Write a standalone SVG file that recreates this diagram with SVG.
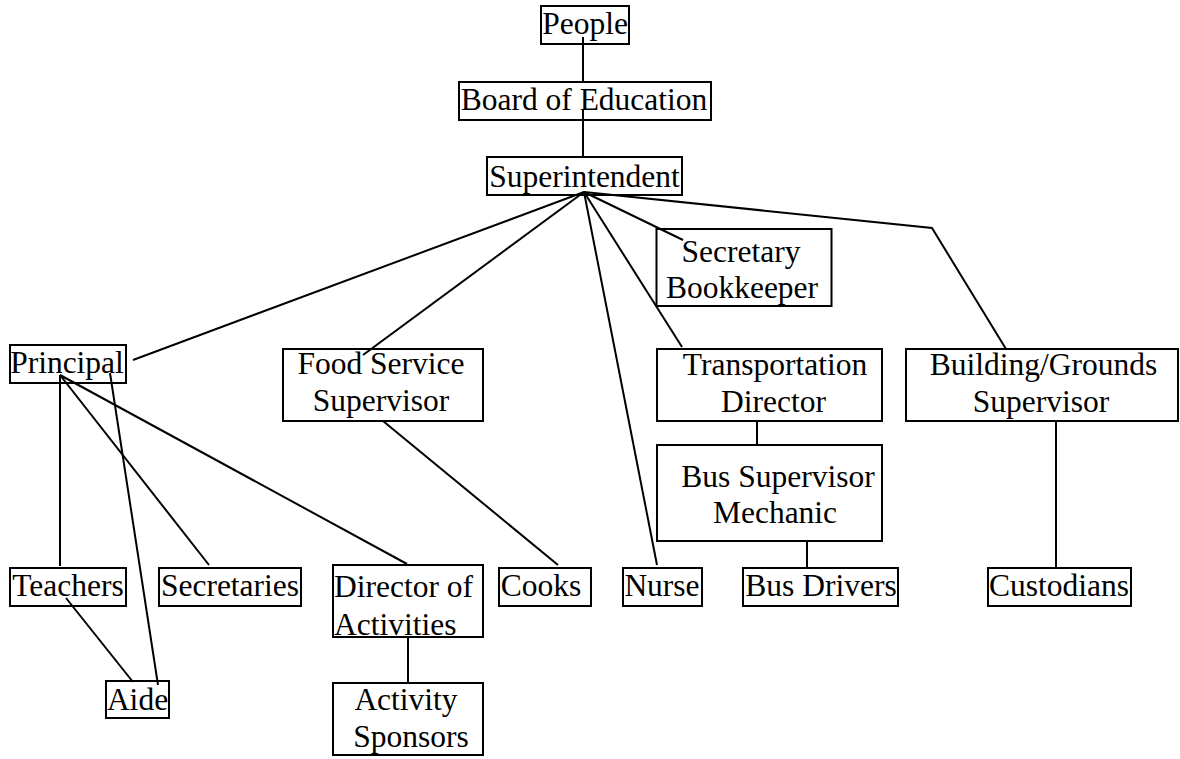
<svg xmlns="http://www.w3.org/2000/svg" width="1180" height="759" viewBox="0 0 1180 759">
  <style>
    .box { fill: #ffffff; stroke: #000000; stroke-width: 2; }
    .lbl { font-family: "Liberation Serif", "Times New Roman", serif; font-size: 31.5px; fill: #000000; text-anchor: middle; }
    .lbl-l { font-family: "Liberation Serif", "Times New Roman", serif; font-size: 31.5px; fill: #000000; text-anchor: start; }
    .link { fill: none; stroke: #000000; stroke-width: 2; }
  </style>
  <rect width="1180" height="759" fill="#ffffff"/>

  <!-- boxes are drawn first so the reporting lines sit on top of them -->
  <g id="node-people"><rect class="box" x="541" y="6" width="88" height="38"/></g>
  <g id="node-board"><rect class="box" x="459" y="82" width="252" height="38"/></g>
  <g id="node-superintendent"><rect class="box" x="487" y="157" width="195" height="38"/></g>
  <g id="node-secretary-bookkeeper"><rect class="box" x="656.5" y="229" width="175" height="77"/></g>
  <g id="node-principal"><rect class="box" x="10" y="345" width="116" height="38"/></g>
  <g id="node-food-service"><rect class="box" x="283" y="349" width="200" height="72"/></g>
  <g id="node-transportation"><rect class="box" x="657" y="349" width="225" height="72"/></g>
  <g id="node-building"><rect class="box" x="906" y="349" width="272" height="72"/></g>
  <g id="node-bus-supervisor"><rect class="box" x="657" y="445" width="225" height="96"/></g>
  <g id="node-teachers"><rect class="box" x="10" y="568" width="116" height="38"/></g>
  <g id="node-secretaries"><rect class="box" x="159" y="568" width="142" height="38"/></g>
  <g id="node-director-activities"><rect class="box" x="333" y="565" width="150" height="72"/></g>
  <g id="node-cooks"><rect class="box" x="499" y="568" width="92" height="38"/></g>
  <g id="node-nurse"><rect class="box" x="623" y="568" width="79" height="38"/></g>
  <g id="node-bus-drivers"><rect class="box" x="743" y="568" width="155" height="38"/></g>
  <g id="node-custodians"><rect class="box" x="988" y="568" width="143" height="38"/></g>
  <g id="node-aide"><rect class="box" x="106" y="681" width="63" height="37"/></g>
  <g id="node-activity-sponsors"><rect class="box" x="333" y="683" width="150" height="72"/></g>

  <!-- reporting lines -->
  <g id="connectors">
    <line class="link" x1="583" y1="37" x2="583" y2="83"/>
    <line class="link" x1="583" y1="110" x2="583" y2="157"/>
    <line class="link" x1="584" y1="192" x2="133" y2="360"/>
    <line class="link" x1="584" y1="192" x2="363" y2="355"/>
    <line class="link" x1="584" y1="192" x2="657" y2="565"/>
    <line class="link" x1="584" y1="192" x2="683" y2="240"/>
    <line class="link" x1="584" y1="192" x2="682" y2="347"/>
    <polyline class="link" points="584,192 932,228 1006,349"/>
    <line class="link" x1="60" y1="375" x2="60" y2="566"/>
    <line class="link" x1="60" y1="375" x2="209" y2="565"/>
    <line class="link" x1="60" y1="375" x2="407" y2="564"/>
    <line class="link" x1="110" y1="373" x2="158" y2="685"/>
    <line class="link" x1="66" y1="598" x2="133" y2="682"/>
    <line class="link" x1="383" y1="421" x2="558" y2="565"/>
    <line class="link" x1="408" y1="637" x2="408" y2="683"/>
    <line class="link" x1="757" y1="421" x2="757" y2="445"/>
    <line class="link" x1="807" y1="541" x2="807" y2="568"/>
    <line class="link" x1="1056" y1="421" x2="1056" y2="568"/>
  </g>

  <!-- labels -->
  <g id="labels">
    <text class="lbl" x="585" y="34">People</text>
    <text class="lbl" x="584" y="110">Board of Education</text>
    <text class="lbl" x="584.5" y="187">Superintendent</text>
    <text class="lbl" x="741" y="262">Secretary</text>
    <text class="lbl" x="742" y="298">Bookkeeper</text>
    <text class="lbl" x="67" y="373">Principal</text>
    <text class="lbl" x="381" y="374">Food Service</text>
    <text class="lbl" x="381" y="411">Supervisor</text>
    <text class="lbl" x="775" y="375">Transportation</text>
    <text class="lbl" x="773.5" y="411.5">Director</text>
    <text class="lbl" x="1043.5" y="375">Building/Grounds</text>
    <text class="lbl" x="1041" y="411.5">Supervisor</text>
    <text class="lbl" x="778" y="486.5">Bus Supervisor</text>
    <text class="lbl" x="775" y="522.5">Mechanic</text>
    <text class="lbl" x="68" y="596">Teachers</text>
    <text class="lbl" x="230" y="596">Secretaries</text>
    <text class="lbl-l" x="334" y="597">Director of</text>
    <text class="lbl-l" x="334" y="635">Activities</text>
    <text class="lbl" x="541" y="596">Cooks</text>
    <text class="lbl" x="662" y="596">Nurse</text>
    <text class="lbl" x="821" y="596">Bus Drivers</text>
    <text class="lbl" x="1059" y="596">Custodians</text>
    <text class="lbl" x="137.5" y="710">Aide</text>
    <text class="lbl" x="406" y="710">Activity</text>
    <text class="lbl" x="411" y="747">Sponsors</text>
  </g>
</svg>
